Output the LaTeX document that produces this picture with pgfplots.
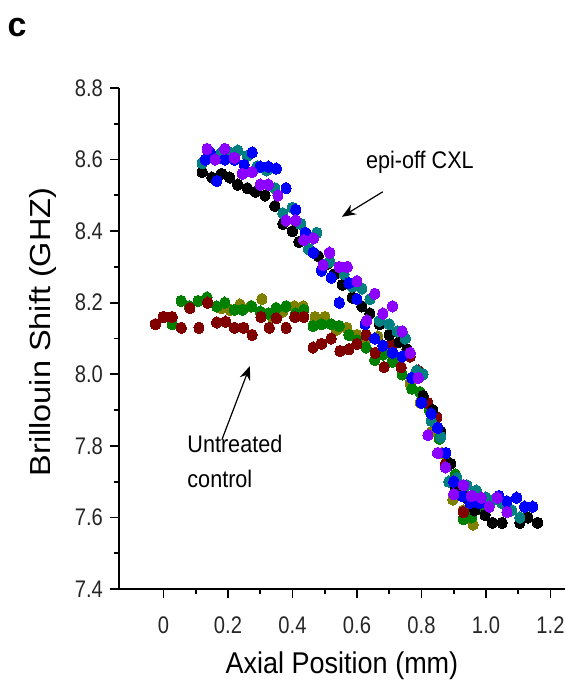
\documentclass[border=0pt]{standalone}
\usepackage{pgfplots}
\pgfplotsset{compat=1.18}
\usetikzlibrary{arrows.meta}
\usepackage{fontspec}
\setmainfont{Liberation Sans}
\newfontfamily\condfont{Liberation Sans}[FakeStretch=0.84]
\newfontfamily\labfont{Liberation Sans}[FakeStretch=0.9]
\definecolor{cpurple}{RGB}{140,0,255}
\definecolor{cteal}{RGB}{0,128,128}
\definecolor{cblue}{RGB}{0,0,255}
\definecolor{cgreen}{RGB}{0,128,0}
\definecolor{cmaroon}{RGB}{128,0,0}
\definecolor{colive}{RGB}{128,128,0}
\pgfplotsset{dots/.style={only marks, mark=*, mark size=2.5pt, color=#1, mark options={fill=#1, draw=#1, line width=0pt, yscale=1.15}}}
\begin{document}
\begin{tikzpicture}
\useasboundingbox (-59.5pt,-50.5pt) rectangle (223.5pt,294.5pt);
\begin{axis}[at={(0,0)}, anchor=south west, scale only axis,
  width=223pt, height=250.5pt,
  xmin=-0.138, xmax=1.245, ymin=7.4, ymax=8.8,
  axis x line=bottom, axis y line=left,
  axis line style={-, line width=1pt, black},
  tick align=outside, major tick length=4.5pt, minor tick length=2.5pt,
  every tick/.style={black, line width=0.9pt},
  xtick={0,0.2,0.4,0.6,0.8,1.0,1.2},
  xticklabels={0,0.2,0.4,0.6,\raisebox{-2.5pt}{0.8},1.0,1.2},
  ytick={7.4,7.6,7.8,8.0,8.2,8.4,8.6,8.8},
  yticklabels={7.4,7.6,7.8,8.0,8.2,8.4,8.6,8.8},
  minor x tick num=1, minor y tick num=1,
  tick label style={font=\condfont\fontsize{12}{14}\selectfont, text=black!85},
  xticklabel style={yshift=-6pt},
  clip=false]
% untreated control
\addplot[dots=colive] coordinates {
(0.18,8.185)(0.207,8.18)(0.237,8.195)(0.27,8.19)(0.305,8.21)(0.337,8.16)(0.37,8.175)
(0.405,8.19)(0.433,8.19)(0.47,8.16)(0.50,8.16)(0.537,8.125)(0.568,8.13)(0.60,8.11)
(0.63,8.10)(0.665,8.105)(0.69,8.07)(0.72,8.04)(0.765,7.975)(0.797,7.92)(0.832,7.84)
(0.863,7.78)(0.897,7.65)(0.93,7.62)(0.96,7.58)};
\addplot[dots=cgreen] coordinates {
(0.027,8.14)(0.055,8.205)(0.08,8.19)(0.107,8.205)(0.135,8.215)(0.165,8.19)(0.19,8.20)
(0.22,8.18)(0.245,8.18)(0.274,8.19)(0.30,8.175)(0.325,8.17)(0.35,8.185)(0.38,8.19)
(0.41,8.17)(0.435,8.18)(0.464,8.135)(0.49,8.14)(0.52,8.14)(0.545,8.135)(0.575,8.11)
(0.60,8.095)(0.628,8.075)(0.655,8.04)(0.68,8.055)(0.71,8.035)(0.74,8.00)(0.77,7.96)
(0.795,7.95)(0.825,7.90)(0.855,7.82)(0.88,7.75)(0.905,7.72)(0.93,7.595)(0.955,7.60)(0.98,7.625)};
\addplot[dots=cmaroon] coordinates {
(-0.025,8.14)(0.00,8.16)(0.027,8.16)(0.055,8.13)(0.082,8.185)(0.11,8.13)(0.137,8.20)
(0.165,8.145)(0.193,8.147)(0.22,8.13)(0.248,8.13)(0.275,8.11)(0.302,8.16)(0.328,8.13)
(0.35,8.157)(0.38,8.13)(0.407,8.16)(0.435,8.16)(0.464,8.075)(0.49,8.085)(0.52,8.10)
(0.547,8.065)(0.575,8.07)(0.60,8.085)(0.628,8.11)(0.656,8.06)(0.684,8.02)(0.71,8.085)
(0.737,8.02)(0.765,8.05)(0.79,8.01)(0.82,7.92)(0.848,7.88)(0.875,7.75)(0.90,7.695)(0.93,7.615)};
% epi-off CXL
\addplot[dots=black] coordinates {
(0.12,8.565)(0.15,8.55)(0.18,8.56)(0.205,8.55)(0.23,8.53)(0.26,8.52)(0.285,8.51)
(0.315,8.50)(0.345,8.47)(0.37,8.42)(0.40,8.40)(0.42,8.37)(0.45,8.35)(0.48,8.33)
(0.51,8.31)(0.53,8.28)(0.555,8.25)(0.585,8.215)(0.615,8.19)(0.64,8.17)(0.67,8.14)
(0.70,8.11)(0.73,8.09)(0.755,8.07)(0.78,8.00)(0.805,7.94)(0.835,7.90)(0.86,7.84)
(0.89,7.75)(0.905,7.68)(0.94,7.655)(0.965,7.62)(0.997,7.607)(1.02,7.585)(1.05,7.585)
(1.105,7.585)(1.13,7.60)(1.16,7.585)};
\addplot[dots=cteal] coordinates {
(0.12,8.59)(0.15,8.61)(0.18,8.62)(0.205,8.62)(0.23,8.625)(0.26,8.61)(0.29,8.58)
(0.32,8.57)(0.345,8.52)(0.37,8.45)(0.40,8.465)(0.425,8.42)(0.45,8.35)(0.475,8.395)
(0.515,8.315)(0.56,8.28)(0.585,8.245)(0.615,8.24)(0.64,8.21)(0.67,8.15)(0.70,8.14)
(0.725,8.12)(0.75,8.10)(0.785,8.01)(0.805,8.00)(0.83,7.87)(0.86,7.825)(0.885,7.70)
(0.91,7.71)(0.94,7.69)(0.97,7.675)(1.00,7.655)(1.025,7.65)(1.05,7.64)(1.08,7.62)(1.105,7.60)};
\addplot[dots=cblue] coordinates {
(0.13,8.60)(0.145,8.62)(0.165,8.54)(0.19,8.60)(0.22,8.60)(0.25,8.585)(0.275,8.62)
(0.30,8.58)(0.325,8.58)(0.35,8.575)(0.38,8.52)(0.41,8.46)(0.44,8.395)(0.465,8.34)
(0.49,8.29)(0.52,8.27)(0.545,8.20)(0.575,8.255)(0.60,8.21)(0.625,8.14)(0.655,8.10)
(0.68,8.08)(0.71,8.06)(0.74,8.05)(0.77,7.99)(0.80,7.92)(0.83,7.89)(0.85,7.85)
(0.875,7.78)(0.90,7.70)(0.925,7.66)(0.95,7.64)(0.98,7.64)(1.01,7.63)(1.04,7.66)
(1.065,7.645)(1.095,7.655)(1.12,7.63)(1.145,7.63)};
\addplot[dots=cpurple] coordinates {
(0.135,8.63)(0.16,8.60)(0.19,8.63)(0.22,8.605)(0.245,8.56)(0.275,8.565)(0.30,8.53)
(0.325,8.53)(0.355,8.50)(0.38,8.43)(0.41,8.43)(0.435,8.375)(0.465,8.38)(0.495,8.305)
(0.515,8.34)(0.545,8.30)(0.57,8.30)(0.60,8.26)(0.63,8.15)(0.655,8.225)(0.68,8.17)
(0.71,8.19)(0.74,8.12)(0.765,8.06)(0.79,7.99)(0.82,7.83)(0.85,7.78)(0.875,7.74)
(0.90,7.665)(0.93,7.69)(0.955,7.66)(0.985,7.655)(1.01,7.63)(1.035,7.655)(1.065,7.615)};
% annotations
\node[font=\labfont\fontsize{12}{14}\selectfont] at (axis cs:0.795,8.593) {epi-off CXL};
\draw[-{Stealth[length=7pt,width=5.5pt]}, line width=0.6pt] (axis cs:0.68,8.51) -- (axis cs:0.553,8.44);
\node[font=\labfont\fontsize{12}{17.5}\selectfont, align=left, anchor=north west, inner sep=0pt] at (axis cs:0.073,7.832) {Untreated\\control};
\draw[-{Stealth[length=7pt,width=5.5pt]}, line width=0.6pt] (axis cs:0.181,7.817) -- (axis cs:0.268,8.023);
\end{axis}
\node[font=\labfont\fontsize{15}{18}\selectfont] at (111.5pt,-38.5pt) {Axial Position (mm)};
\node[font=\fontsize{14.5}{17}\selectfont, rotate=90] at (-38pt,128.5pt) {\scalebox{1.12}[1]{Brillouin Shift (GHZ)}};
\node[font=\fontsize{17}{20}\bfseries\selectfont] at (-51pt,280.5pt) {c};
\end{tikzpicture}
\end{document}
